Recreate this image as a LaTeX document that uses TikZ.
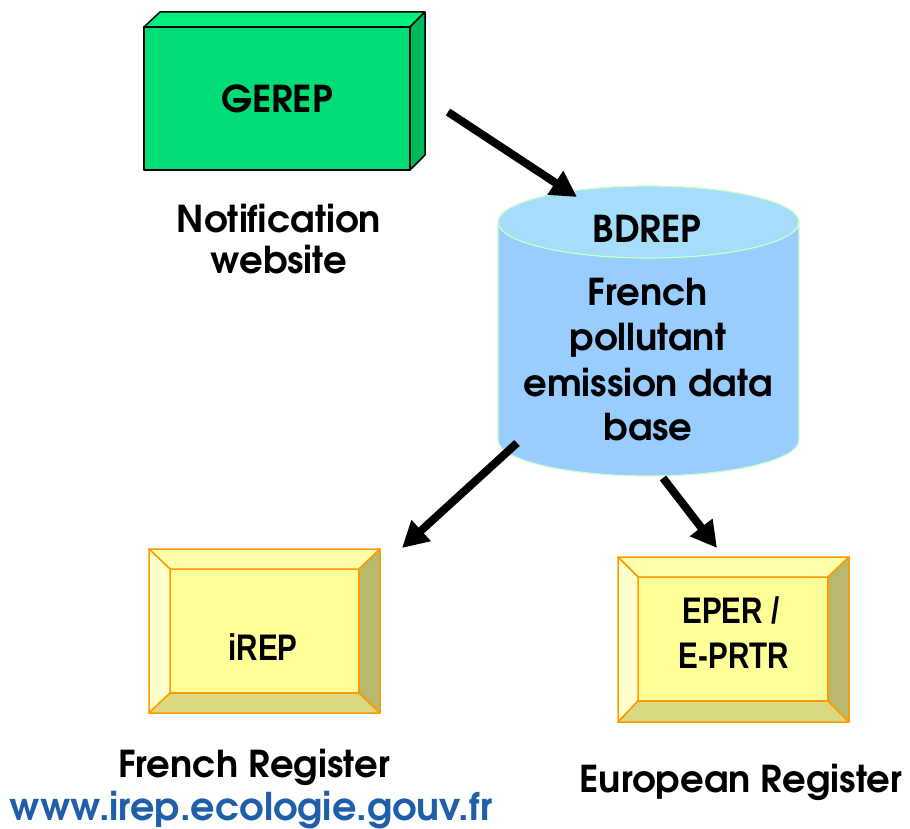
\documentclass[tikz,border=0pt]{standalone}
\usepackage{fontspec}
\setmainfont{TeX Gyre Adventor}
\newfontfamily\narrowfont[FakeStretch=0.8]{Liberation Sans}
\usetikzlibrary{arrows.meta}
\definecolor{greenfront}{RGB}{0,221,119}
\definecolor{greentop}{RGB}{0,240,128}
\definecolor{greenside}{RGB}{0,187,94}
\definecolor{cylbody}{RGB}{153,204,255}
\definecolor{cyltop}{RGB}{166,221,251}
\definecolor{cylline}{RGB}{204,255,204}
\definecolor{bvstroke}{RGB}{255,153,0}
\definecolor{bvinner}{RGB}{255,255,153}
\definecolor{bvtop}{RGB}{255,255,170}
\definecolor{bvleft}{RGB}{255,255,204}
\definecolor{bvbottom}{RGB}{217,217,130}
\definecolor{bvright}{RGB}{184,184,110}
\definecolor{urlblue}{RGB}{31,94,168}
\tikzset{
  lbl/.style={anchor=base, inner sep=0pt, font=\fontsize{37}{44}\selectfont\bfseries},
  nlbl/.style={anchor=base, inner sep=0pt, font=\fontsize{37}{44}\selectfont\narrowfont\bfseries},
  bigarrow/.style={line width=8pt, -{Triangle[length=26pt,width=27pt]}},
  green3d/.style={draw=black, line width=1.5pt, line join=round},
  bevel/.style={draw=bvstroke, line width=1.5pt, line join=round},
}
\begin{document}
\begin{tikzpicture}[x=1pt,y=-1pt]
\useasboundingbox (0,0) rectangle (910,829);
% GEREP 3D box
\fill[greentop, green3d] (144,27) -- (160,12) -- (425,12) -- (410,27) -- cycle;
\fill[greenside, green3d] (410,27) -- (425,12) -- (425,155) -- (410,170) -- cycle;
\fill[greenfront, green3d] (144,27) rectangle (410,170);
\node[lbl] (gerep) at (277,113) {GEREP};
\node[lbl] (notif1) at (279,233) {Notification};
\node[lbl] (notif2) at (279,273) {website};
% BDREP cylinder
\fill[cylbody, draw=cylline, line width=1.2pt] (498,222) -- (498,440) arc[start angle=180, end angle=0, x radius=150.5, y radius=36] -- (799,222) -- cycle;
\fill[cyltop, draw=cylline, line width=1.2pt] (648.5,222) ellipse[x radius=150.5, y radius=36];
\node[lbl] (bdrep) at (647,242) {BDREP};
\node[lbl] (db1) at (648,305) {French};
\node[lbl] (db2) at (648,350) {pollutant};
\node[lbl] (db3) at (648,396) {emission data};
\node[lbl] (db4) at (648,440) {base};
% iREP bevel box
\fill[bvinner, bevel] (170,569) rectangle (359,693);
\fill[bvtop, bevel] (149,549) -- (380,549) -- (359,569) -- (170,569) -- cycle;
\fill[bvleft, bevel] (149,549) -- (170,569) -- (170,693) -- (149,713) -- cycle;
\fill[bvbottom, bevel] (149,713) -- (170,693) -- (359,693) -- (380,713) -- cycle;
\fill[bvright, bevel] (380,549) -- (380,713) -- (359,693) -- (359,569) -- cycle;
\node[nlbl] (irep) at (263,660) {iREP};
% EPER bevel box
\fill[bvinner, bevel] (638,577) rectangle (828,701);
\fill[bvtop, bevel] (618,557) -- (849,557) -- (828,577) -- (638,577) -- cycle;
\fill[bvleft, bevel] (618,557) -- (638,577) -- (638,701) -- (618,722) -- cycle;
\fill[bvbottom, bevel] (618,722) -- (638,701) -- (828,701) -- (849,722) -- cycle;
\fill[bvright, bevel] (849,557) -- (849,722) -- (828,701) -- (828,577) -- cycle;
\node[nlbl] (eper1) at (731,623) {EPER /};
\node[nlbl] (eper2) at (734,668) {E-PRTR};
% bottom labels
\node[lbl] (frreg) at (254,777) {French Register};
\node[lbl, text=urlblue, font=\fontsize{38.2}{44}\selectfont\bfseries] (url) at (251,820) {www.irep.ecologie.gouv.fr};
\node[lbl] (eureg) at (741,792) {European Register};
% arrows
\coordinate (a1s) at (448,112);
\coordinate (a1e) at (577,197);
\coordinate (a2s) at (517,443);
\coordinate (a2e) at (402,548);
\coordinate (a3s) at (663,478);
\coordinate (a3e) at (717,548);
\draw[bigarrow] (a1s) -- (a1e);
\draw[bigarrow] (a2s) -- (a2e);
\draw[bigarrow] (a3s) -- (a3e);
\end{tikzpicture}
\end{document}
